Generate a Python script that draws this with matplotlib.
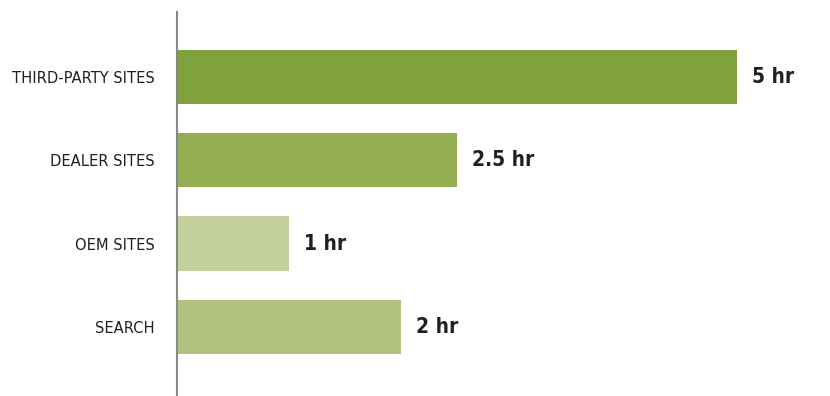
import matplotlib.pyplot as plt
import matplotlib as mpl
from matplotlib import font_manager

# prefer a narrow face for the labels
fonts = font_manager.fontManager.ttflist
narrow = [f for f in fonts if f.stretch in ("condensed", "semi-condensed", "extra-condensed")
          or "Narrow" in f.name or "Condensed" in f.name]
if narrow:
    mpl.rcParams["font.family"] = narrow[0].name
    mpl.rcParams["font.stretch"] = narrow[0].stretch
    label_size, value_size = 11.8, 15
else:
    mpl.rcParams["font.family"] = "DejaVu Sans"
    label_size, value_size = 9.5, 13

categories = ["THIRD-PARTY SITES", "DEALER SITES", "OEM SITES", "SEARCH"]
hours = [5, 2.5, 1, 2]
value_labels = ["5 hr", "2.5 hr", "1 hr", "2 hr"]
colors = ["#80a23c", "#93ad52", "#c3cf9d", "#b1c27f"]

fig = plt.figure(figsize=(8.3, 3.96), dpi=100)
ax = fig.add_axes([177 / 830, 0, 653 / 830, 384 / 396])

y = list(range(len(categories)))
ax.barh(y, hours, height=0.65, color=colors)
ax.set_ylim(3.83, -0.78)
ax.set_xlim(0, 653 / 112)

for yi, v, lab in zip(y, hours, value_labels):
    ax.annotate(lab, (v, yi), xytext=(11, 0), textcoords="offset points",
                ha="left", va="center", fontsize=value_size, fontweight="bold",
                color="#231f20")

ax.set_yticks(y)
ax.set_yticklabels(categories, fontsize=label_size, color="#231f20")
ax.tick_params(axis="y", length=0, pad=16)
ax.set_xticks([])
for s in ["top", "right", "bottom"]:
    ax.spines[s].set_visible(False)
ax.spines["left"].set_color("#888888")
ax.spines["left"].set_linewidth(1.5)

fig.savefig("out.png")
